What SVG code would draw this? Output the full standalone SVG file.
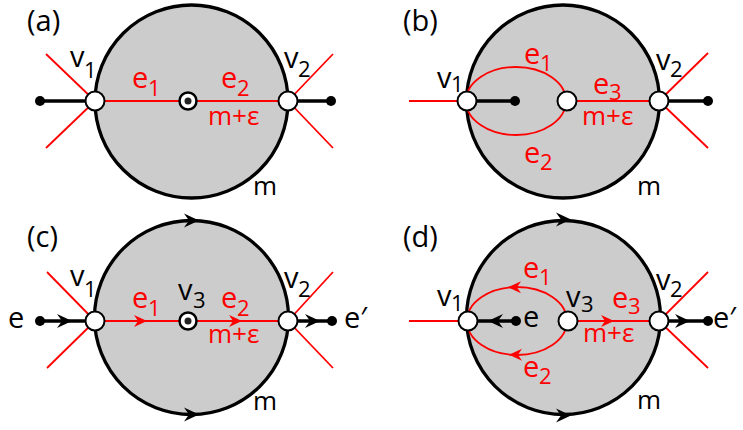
<svg xmlns="http://www.w3.org/2000/svg" width="743" height="430" viewBox="0 0 743 430">
<defs>
<style>
text{font-family:"Open Sans","Liberation Sans",sans-serif;}
.lbl{font-size:29px;fill:#000;}
.sub{font-size:22px;}
.red{fill:#ff0000;}
.mm{font-size:26px;}
.disk{fill:#cccccc;stroke:#000;stroke-width:3.3;}
.rl{stroke:#ff0000;stroke-width:1.8;fill:none;}
.bl{stroke:#000;stroke-width:3.5;fill:none;}
.vtx{fill:#fff;stroke:#000;stroke-width:2;}
.dot{fill:#000;}
.c3{fill:#fff;stroke:#000;stroke-width:2.5;}
.c3i{fill:#222;}
</style>
<path id="ab" d="M0,0 L-15,-7 L-10,0 L-15,7 Z" fill="#000"/>
<path id="ar" d="M0,0 L-13,-6 L-9,0 L-13,6 Z" fill="#ff0000"/>
</defs>

<!-- Panel (a) -->
<g id="panel-a">
<circle id="a-disk" class="disk" cx="191.5" cy="101.5" r="96.5"/>
<g id="a-connectors">
<line class="rl" x1="46" y1="54" x2="95" y2="101"/>
<line class="rl" x1="46" y1="148" x2="95" y2="101"/>
<line class="rl" x1="333" y1="54" x2="288" y2="101"/>
<line class="rl" x1="333" y1="148" x2="288" y2="101"/>
<line class="rl" x1="95" y1="101" x2="288" y2="101"/>
<line class="bl" x1="40" y1="101" x2="95" y2="101"/>
<line class="bl" x1="288" y1="101" x2="331" y2="101"/>
</g>
<g id="a-end1"><circle class="dot" cx="40" cy="101" r="5"/></g>
<g id="a-end2"><circle class="dot" cx="331" cy="101" r="5"/></g>
<g id="a-v1"><circle class="vtx" cx="95" cy="101" r="9.5"/></g>
<g id="a-v2"><circle class="vtx" cx="288" cy="101" r="9.5"/></g>
<g id="a-v3"><circle class="c3" cx="188" cy="101" r="8.5"/><circle class="c3i" cx="188" cy="101" r="3.5"/></g>
<text class="lbl" x="27" y="31">(a)</text>
<text class="lbl" x="70" y="67">v<tspan class="sub" x="84" y="78">1</tspan></text>
<text class="lbl" x="284" y="68">v<tspan class="sub" x="298" y="77">2</tspan></text>
<text class="lbl red" x="132" y="88">e<tspan class="sub" x="148" y="96">1</tspan></text>
<text class="lbl red" x="221" y="88">e<tspan class="sub" x="237" y="96">2</tspan></text>
<text class="lbl red mm" x="208" y="125">m+ε</text>
<text class="lbl mm" x="253" y="195">m</text>
</g>

<!-- Panel (b) -->
<g id="panel-b">
<circle id="b-disk" class="disk" cx="563" cy="101.5" r="96.5"/>
<g id="b-connectors">
<line class="rl" x1="409" y1="101" x2="467" y2="101"/>
<line class="rl" x1="708" y1="53" x2="659" y2="101"/>
<line class="rl" x1="708" y1="148" x2="659" y2="101"/>
<line class="rl" x1="567" y1="101" x2="659" y2="101"/>
<ellipse class="rl" cx="516" cy="101" rx="50" ry="34"/>
<line class="bl" x1="467" y1="101" x2="515" y2="101"/>
<line class="bl" x1="659" y1="101" x2="708" y2="101"/>
</g>
<g id="b-end1"><circle class="dot" cx="515" cy="101" r="5"/></g>
<g id="b-end2"><circle class="dot" cx="708" cy="101" r="5"/></g>
<g id="b-v1"><circle class="vtx" cx="467" cy="101" r="9.5"/></g>
<g id="b-v2"><circle class="vtx" cx="659" cy="101" r="9.5"/></g>
<g id="b-v3"><circle class="vtx" cx="567" cy="101" r="9.5"/></g>
<text class="lbl" x="403" y="31">(b)</text>
<text class="lbl" x="437" y="88">v<tspan class="sub" x="451" y="92">1</tspan></text>
<text class="lbl" x="656" y="70">v<tspan class="sub" x="670" y="77">2</tspan></text>
<text class="lbl red" x="524" y="64">e<tspan class="sub" x="540" y="71">1</tspan></text>
<text class="lbl red" x="524" y="163">e<tspan class="sub" x="540" y="170">2</tspan></text>
<text class="lbl red" x="593" y="94">e<tspan class="sub" x="609" y="100">3</tspan></text>
<text class="lbl red mm" x="582" y="125">m+ε</text>
<text class="lbl mm" x="637" y="195">m</text>
</g>

<!-- Panel (c) -->
<g id="panel-c">
<circle id="c-disk" class="disk" cx="191.5" cy="317.5" r="97"/>
<g id="c-connectors">
<use href="#ab" x="199" y="220.5"/>
<use href="#ab" x="199" y="414.5"/>
<line class="rl" x1="47" y1="272" x2="95" y2="321"/>
<line class="rl" x1="47" y1="368" x2="95" y2="321"/>
<line class="rl" x1="333" y1="272" x2="288" y2="321"/>
<line class="rl" x1="333" y1="368" x2="288" y2="321"/>
<line class="rl" x1="95" y1="321" x2="288" y2="321"/>
<use href="#ar" x="147" y="321"/>
<use href="#ar" x="242" y="321"/>
<line class="bl" x1="40" y1="321" x2="95" y2="321"/>
<line class="bl" x1="288" y1="321" x2="332" y2="321"/>
<use href="#ab" x="72" y="321"/>
<use href="#ab" x="320" y="321"/>
</g>
<g id="c-end1"><circle class="dot" cx="40" cy="321" r="5"/></g>
<g id="c-end2"><circle class="dot" cx="332" cy="321" r="5"/></g>
<g id="c-v1"><circle class="vtx" cx="95" cy="321" r="9.5"/></g>
<g id="c-v2"><circle class="vtx" cx="288" cy="321" r="9.5"/></g>
<g id="c-v3"><circle class="c3" cx="188" cy="321" r="8.5"/><circle class="c3i" cx="188" cy="321" r="3.5"/></g>
<text class="lbl" x="27" y="247">(c)</text>
<text class="lbl" x="70" y="286">v<tspan class="sub" x="84" y="297">1</tspan></text>
<text class="lbl" x="284" y="288">v<tspan class="sub" x="298" y="297">2</tspan></text>
<text class="lbl" x="178" y="300">v<tspan class="sub" x="193" y="308">3</tspan></text>
<text class="lbl red" x="132" y="308">e<tspan class="sub" x="148" y="316">1</tspan></text>
<text class="lbl red" x="221" y="308">e<tspan class="sub" x="237" y="316">2</tspan></text>
<text class="lbl red mm" x="208" y="343">m+ε</text>
<text class="lbl mm" x="253" y="410">m</text>
<text class="lbl" x="8" y="328">e</text>
<text class="lbl" x="344" y="328">e′</text>
</g>

<!-- Panel (d) -->
<g id="panel-d">
<circle id="d-disk" class="disk" cx="563.5" cy="317.5" r="97"/>
<g id="d-connectors">
<use href="#ab" x="571" y="219.5"/>
<use href="#ab" x="571" y="415.5"/>
<line class="rl" x1="409" y1="321" x2="468" y2="321"/>
<line class="rl" x1="708" y1="272" x2="659" y2="321"/>
<line class="rl" x1="708" y1="368" x2="659" y2="321"/>
<line class="rl" x1="568" y1="321" x2="659" y2="321"/>
<ellipse class="rl" cx="517" cy="321" rx="50" ry="34"/>
<use href="#ar" x="508" y="287.3" transform="rotate(180 508 287.3)"/>
<use href="#ar" x="509" y="354.7" transform="rotate(180 509 354.7)"/>
<use href="#ar" x="614" y="321"/>
<line class="bl" x1="468" y1="321" x2="516" y2="321"/>
<line class="bl" x1="659" y1="321" x2="708" y2="321"/>
<use href="#ab" x="488" y="321" transform="rotate(180 488 321)"/>
<use href="#ab" x="690" y="321"/>
</g>
<g id="d-end1"><circle class="dot" cx="516" cy="321" r="5"/></g>
<g id="d-end2"><circle class="dot" cx="708" cy="321" r="5"/></g>
<g id="d-v1"><circle class="vtx" cx="468" cy="321" r="9.5"/></g>
<g id="d-v2"><circle class="vtx" cx="659" cy="321" r="9.5"/></g>
<g id="d-v3"><circle class="vtx" cx="568" cy="321" r="9.5"/></g>
<text class="lbl" x="403" y="247">(d)</text>
<text class="lbl" x="437" y="306">v<tspan class="sub" x="451" y="311">1</tspan></text>
<text class="lbl" x="656" y="290">v<tspan class="sub" x="670" y="297">2</tspan></text>
<text class="lbl" x="566" y="307">v<tspan class="sub" x="581" y="312">3</tspan></text>
<text class="lbl" x="523" y="327">e</text>
<text class="lbl" x="713" y="328">e′</text>
<text class="lbl red" x="523" y="278">e<tspan class="sub" x="539" y="285">1</tspan></text>
<text class="lbl red" x="523" y="377">e<tspan class="sub" x="539" y="384">2</tspan></text>
<text class="lbl red" x="612" y="308">e<tspan class="sub" x="628" y="314">3</tspan></text>
<text class="lbl red mm" x="583" y="342">m+ε</text>
<text class="lbl mm" x="637" y="409">m</text>
</g>
</svg>
